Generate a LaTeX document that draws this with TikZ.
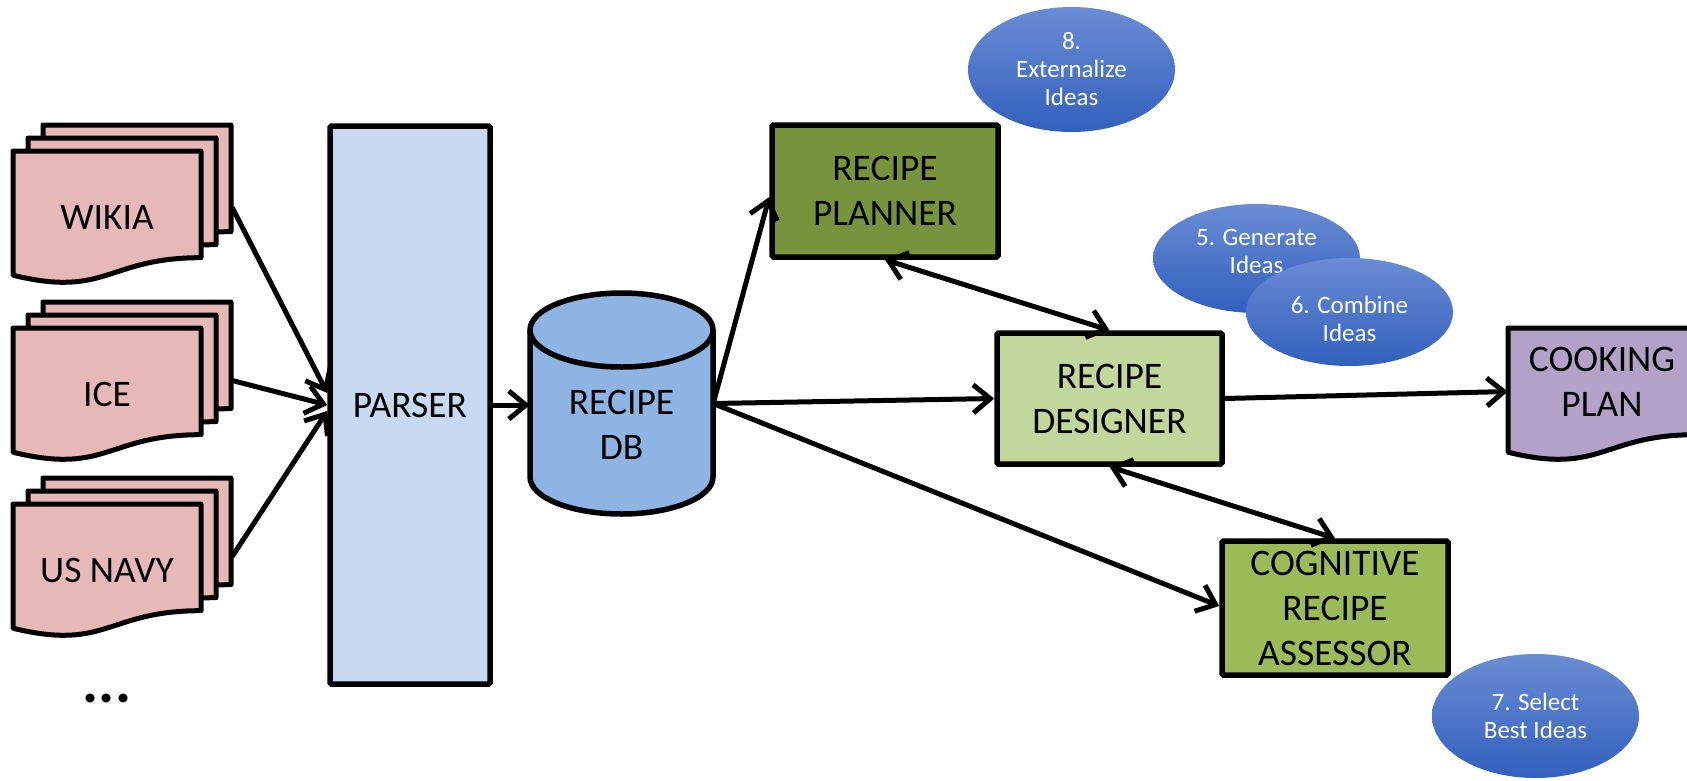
\documentclass[tikz,border=0pt]{standalone}
\usepackage{fontspec}
\setmainfont{Carlito}
\usetikzlibrary{arrows.meta,calc,shapes.geometric}

\definecolor{pagefill}{RGB}{230,185,184}
\definecolor{parserfill}{RGB}{198,217,241}
\definecolor{dbfill}{RGB}{142,180,227}
\definecolor{plannerfill}{RGB}{119,147,60}
\definecolor{designerfill}{RGB}{195,214,155}
\definecolor{assessorfill}{RGB}{155,187,89}
\definecolor{planfill}{RGB}{179,162,199}
\definecolor{ideatop}{RGB}{106,140,212}
\definecolor{ideabottom}{RGB}{50,96,189}

\newcommand\mainsize{\fontsize{37.5}{45}\selectfont}
\newcommand\ideasize{\fontsize{25}{28}\selectfont}

% one page of a document: x, y (top left), width, height, fill colour
\newcommand\docpage[5]{%
  \filldraw[pageline, fill=#5] (#1,#2) -- (#1+#3,#2) -- (#1+#3,#2+0.802*#4)
    .. controls (#1+0.5*#3,#2+0.802*#4) and (#1+0.5*#3,#2+1.107*#4) .. (#1,#2+0.934*#4) -- cycle;}
% a stack of three pages, front page at x, y
\newcommand\docstack[2]{%
  \docpage{#1+30}{#2-26}{188}{133}{pagefill}
  \docpage{#1+15}{#2-13}{188}{133}{pagefill}
  \docpage{#1}{#2}{188}{133}{pagefill}}

\tikzset{
  pageline/.style={line width=5pt, line join=round},
  box/.style={draw, line width=5.5pt, rounded corners=1.5pt, align=center,
    font=\mainsize, inner sep=0pt},
  pagetext/.style={minimum width=188pt, minimum height=133pt, inner sep=0pt,
    align=center, font=\mainsize},
  link/.style={line width=5pt, -{Straight Barb[length=17pt,width=28pt]}},
  duplex/.style={line width=5pt,
    {Straight Barb[length=17pt,width=28pt]}-{Straight Barb[length=17pt,width=28pt]}},
  idea/.style={ellipse, minimum width=207pt, top color=ideatop,
    bottom color=ideabottom, inner sep=0pt},
  ideatext/.style={text=white, align=center, font=\ideasize, inner sep=0pt},
}

\begin{document}
\begin{tikzpicture}[x=1pt, y=-1pt]
\useasboundingbox (0,0) rectangle (1687,780);
\clip (0,0) rectangle (1687,780);

% data sources
\docstack{13}{151}
\node[pagetext] (wikia) at (107,217.5) {WIKIA};
\docstack{13}{328}
\node[pagetext] (ice) at (107,394.5) {ICE};
\docstack{13}{504}
\node[pagetext] (navy) at (107,570.5) {US NAVY};
\node[inner sep=0pt, font=\fontsize{60}{60}\selectfont\bfseries] (more) at (107,698) {...};

% parser
\node[box, fill=parserfill, minimum width=160pt, minimum height=558pt] (parser) at (410,405) {PARSER};

% recipe database (cylinder)
\filldraw[fill=dbfill, line width=5.5pt, line join=round]
  (530,330) -- (530,477) arc[start angle=180, end angle=360, x radius=91.5pt, y radius=37pt]
  -- (713,330) arc[start angle=0, end angle=180, x radius=91.5pt, y radius=37pt] -- cycle;
\draw[line width=5.5pt] (530,330) arc[start angle=180, end angle=360, x radius=91.5pt, y radius=37pt];
\node[minimum width=183pt, minimum height=221pt, inner sep=0pt] (db) at (621.5,403.5) {};
\node[align=center, font=\mainsize] (dbname) at ([yshift=-21.5pt]db.center) {RECIPE\\DB};

% processing blocks
\node[box, fill=plannerfill, minimum width=226pt, minimum height=132pt] (planner) at (885,191) {RECIPE\\PLANNER};
\node[box, fill=designerfill, minimum width=225pt, minimum height=131pt] (designer) at (1109.5,398.5) {RECIPE\\DESIGNER};
\node[box, fill=assessorfill, minimum width=226pt, minimum height=134pt] (assessor) at (1335,608) {COGNITIVE\\RECIPE\\ASSESSOR};

% cooking plan document
\docpage{1508}{328}{188}{133}{planfill}
\node[minimum width=188pt, minimum height=107pt, inner sep=0pt, align=center, font=\mainsize] (plan) at (1602,381.5) {COOKING\\PLAN};

% idea bubbles
\node[idea, minimum height=125pt] (externalize) at (1071.5,69.5) {};
\node[ideatext] at (externalize.center) {8.\\Externalize\\Ideas};
\node[idea, minimum height=109pt] (generate) at (1256.5,258.5) {};
\node[ideatext] at ([yshift=7pt]generate.center) {5. Generate\\Ideas};
\node[idea, minimum height=108pt] (combine) at (1349.5,312) {};
\node[ideatext] at ([yshift=-7pt]combine.center) {6. Combine\\Ideas};
\node[idea, minimum height=124pt] (select) at (1535.5,716) {};
\node[ideatext] at (select.center) {7. Select\\Best Ideas};

% connectors
\draw[link] ([xshift=31pt, yshift=10pt]wikia.east) -- ([yshift=12pt]parser.west);
\draw[link] ([xshift=31pt, yshift=14pt]ice.east) -- (parser.west);
\draw[link] ([xshift=31pt, yshift=14pt]navy.east) -- ([yshift=-6pt]parser.west);
\draw[link] (parser.east) -- (parser.east -| db.west);
\draw[link] (db.east) -- ([yshift=-6pt]planner.west);
\draw[link] (db.east) -- (designer.west);
\draw[link] (db.east) -- ([yshift=2pt]assessor.west);
\draw[link] (designer.east) -- ([yshift=-10pt]plan.west);
\draw[duplex] (planner.south) -- (designer.north);
\draw[duplex] (designer.south) -- (assessor.north);
\end{tikzpicture}
\end{document}
